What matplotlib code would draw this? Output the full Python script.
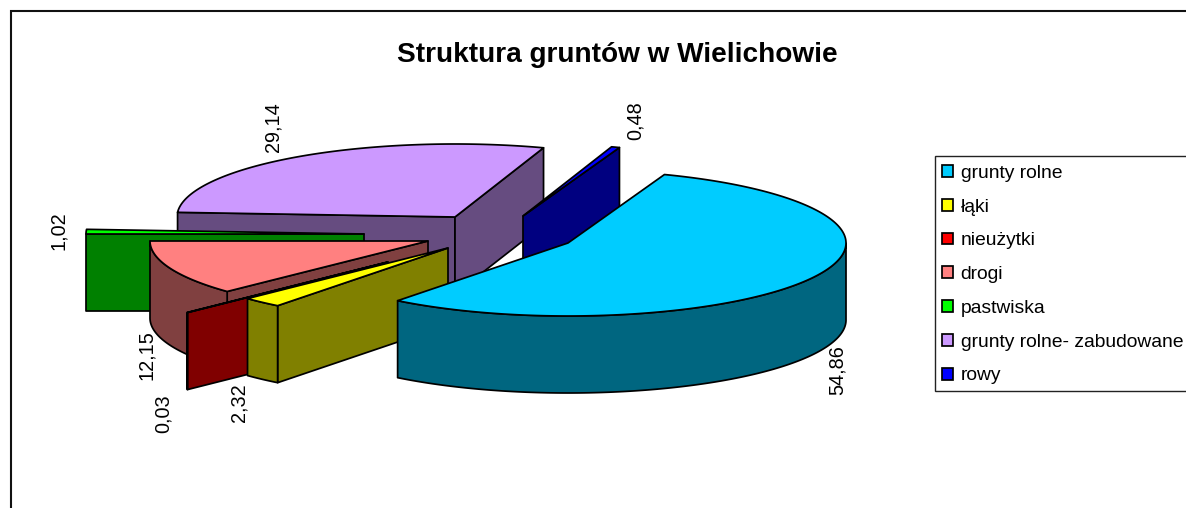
import numpy as np
import matplotlib
matplotlib.use("Agg")
import matplotlib.pyplot as plt
from matplotlib.patches import Polygon, Rectangle, Patch
from matplotlib.transforms import IdentityTransform

plt.rcParams['font.family'] = ['Liberation Sans', 'DejaVu Sans']

# --- data
title = "Struktura gruntów w Wielichowie"
categories = ["grunty rolne", "łąki", "nieużytki", "drogi", "pastwiska",
              "grunty rolne- zabudowane", "rowy"]
values = [54.86, 2.32, 0.03, 12.15, 1.02, 29.14, 0.48]
top_colors = ["#00CCFF", "#FFFF00", "#FF0000", "#FF8080", "#00FF00", "#CC99FF", "#0000FF"]
side_colors = ["#006680", "#808000", "#800000", "#804040", "#008000", "#664C80", "#000080"]

# --- layout of the exploded 3D pie (pixels)
apex_x = [568, 448, 388, 428, 364, 455, 523]
apex_y = [243, 248, 262, 241, 234, 217, 216]
label_x = [837, 239, 163, 146, 59, 273, 635]
label_y = [370, 403, 414, 355, 231, 127, 121]
draw_order = [5, 6, 4, 3, 2, 1, 0]
RX, RY, DEPTH = 278, 73, 77
START = 69.7
EDGE = dict(edgecolor="black", linewidth=1.25, joinstyle="round")

fig = plt.figure(figsize=(11.86, 5.08), dpi=100)
ax = fig.add_axes([0, 0, 1, 1])
ax.set_xlim(0, 1186)
ax.set_ylim(508, 0)
ax.axis("off")

ax.add_patch(Rectangle((10.5, 10.5), 1300, 700, facecolor="white",
                       edgecolor="#111111", linewidth=1.5, zorder=0))

sweeps = 360 * np.array(values) / sum(values)
ends = START - np.cumsum(sweeps)
starts = ends + sweeps


def rim(cx, cy, a):
    r = np.radians(a)
    return cx + RX * np.cos(r), cy - RY * np.sin(r)


z = 1
for i in draw_order:
    cx, cy, a1, a2 = apex_x[i], apex_y[i], starts[i], ends[i]
    ang = np.linspace(a1, a2, max(3, int(abs(a1 - a2) * 2)))
    xs, ys = rim(cx, cy, ang)
    # radial cut faces that turn towards the viewer
    for a, test in ((a1, np.cos(np.radians(a1)) < 0), (a2, np.cos(np.radians(a2)) > 0)):
        if test:
            ex, ey = rim(cx, cy, a)
            ax.add_patch(Polygon([(cx, cy), (ex, ey), (ex, ey + DEPTH), (cx, cy + DEPTH)],
                                 closed=True, facecolor=side_colors[i], zorder=z, **EDGE))
            z += 1
    # outer wall: only the front half of the ellipse
    front = np.sin(np.radians(ang)) <= 0
    if front.sum() > 1:
        fx, fy = xs[front], ys[front]
        wall = np.column_stack([np.r_[fx, fx[::-1]], np.r_[fy, fy[::-1] + DEPTH]])
        ax.add_patch(Polygon(wall, closed=True, facecolor=side_colors[i], zorder=z, **EDGE))
        z += 1
    # top surface
    top = np.column_stack([np.r_[cx, xs], np.r_[cy, ys]])
    ax.add_patch(Polygon(top, closed=True, facecolor=top_colors[i], zorder=z, **EDGE))
    z += 1

for v, lx, ly in zip(values, label_x, label_y):
    ax.text(lx, ly, f"{v:.2f}".replace(".", ","), rotation=90, ha="center", va="center",
            fontsize=14.3, color="black", zorder=z)

ax.text(617, 55, title, ha="center", va="center", fontsize=20.2, fontweight="bold",
        color="black", zorder=z)

# legend box runs off the right edge of the picture, as in the reference
ax.add_patch(Rectangle((934.5, 155.5), 400, 235, facecolor="white", edgecolor="#222222",
                       linewidth=1.0, zorder=z))
handles = [Patch(facecolor=c, edgecolor="black", linewidth=1.25) for c in top_colors]
leg = ax.legend(handles, categories, loc="upper left", bbox_to_anchor=(934, 508 - 157),
                bbox_transform=IdentityTransform(),
                fontsize=13.9, frameon=False, borderpad=0.4, borderaxespad=0, labelspacing=0.87,
                handlelength=0.57, handleheight=0.57, handletextpad=0.41)
leg.set_zorder(z + 1)

fig.savefig("out.png", dpi=100)
